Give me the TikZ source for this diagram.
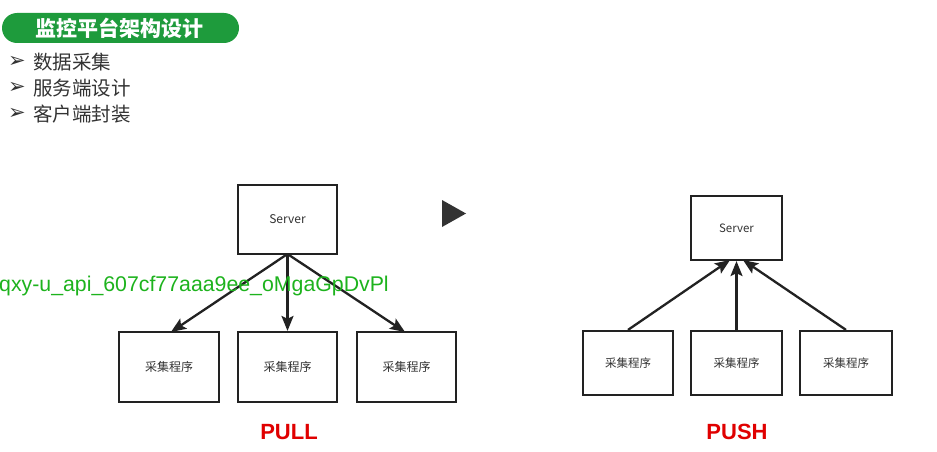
\documentclass[tikz,border=0pt]{standalone}
\usepackage{fontspec}
\setmainfont{Liberation Sans}
\newfontfamily\cjk{Noto Sans CJK SC}
\newfontfamily\dejavu{DejaVu Sans}
\usetikzlibrary{arrows.meta}
\definecolor{titlegreen}{HTML}{1E9B3C}
\definecolor{wmgreen}{HTML}{1DB31D}
\definecolor{labelred}{HTML}{E00000}
\definecolor{boxline}{HTML}{222222}
\definecolor{txtgray}{HTML}{333333}
\tikzset{
  procbox/.style={draw=boxline, line width=2.2pt, fill=white, inner sep=0pt},
  boxtext/.style={font=\fontsize{12}{14}\selectfont\cjk, text=txtgray},
  conn/.style={draw=boxline, line width=2.3pt, -{Stealth[length=15pt,width=12pt,inset=3pt]}},
  bullettext/.style={font=\fontsize{19.5}{22}\selectfont\cjk, text=txtgray, anchor=west, inner sep=0pt},
  bulletmark/.style={font=\fontsize{21}{23}\selectfont\dejavu, text=txtgray, anchor=west, inner sep=0pt},
  modelabel/.style={font=\fontsize{22}{24}\selectfont\bfseries, text=labelred},
}
\begin{document}
\begin{tikzpicture}[x=1pt,y=-1pt]
\useasboundingbox (0,0) rectangle (937,452);
\clip (0,0) rectangle (937,452);
\fill[white] (0,0) rectangle (937,452);

% title pill
\fill[titlegreen, rounded corners=15pt] (2,13) rectangle (239,43);
\node[font=\fontsize{21}{23}\selectfont\cjk\bfseries, text=white] (title) at (119,28) {监控平台架构设计};

% bullets
\node[bulletmark] (b1) at (8,62) {➢};
\node[bullettext] (t1) at (33,62) {数据采集};
\node[bulletmark] (b2) at (8,88) {➢};
\node[bullettext] (t2) at (33,88) {服务端设计};
\node[bulletmark] (b3) at (8,114) {➢};
\node[bullettext] (t3) at (33,114) {客户端封装};

% PULL diagram
\node[procbox, minimum width=99pt, minimum height=69pt, boxtext] (pserver) at (287.5,219.5) {Server};
\node[procbox, minimum width=100pt, minimum height=70pt, boxtext] (pc1) at (169,367) {采集程序};
\node[procbox, minimum width=99pt, minimum height=70pt, boxtext] (pc2) at (287.5,367) {采集程序};
\node[procbox, minimum width=99pt, minimum height=70pt, boxtext] (pc3) at (406.5,367) {采集程序};
\coordinate (pbot) at (287.5,254);
\coordinate (pt1) at (171,332);
\coordinate (pt3) at (405,332);
\draw[conn] (pbot) -- (pt1);
\draw[conn] (pbot) -- (pc2.north);
\draw[conn] (pbot) -- (pt3);
\node[modelabel] (pull) at (289,432) {PULL};

% play triangle
\fill[txtgray] (442,200) -- (466,213.5) -- (442,227) -- cycle;

% watermark
\node[font=\fontsize{21.3}{24}\selectfont, text=wmgreen, anchor=base east, inner sep=0pt] (wm) at (389,291) {qxy-u\_api\_607cf77aaa9ee\_oMgaGpDvPl};

% PUSH diagram
\node[procbox, minimum width=91pt, minimum height=64pt, boxtext, font=\fontsize{11.5}{13}\selectfont\cjk] (sserver) at (736.5,228) {Server};
\node[procbox, minimum width=90pt, minimum height=64pt, boxtext, font=\fontsize{11.5}{13}\selectfont\cjk] (sc1) at (628,363) {采集程序};
\node[procbox, minimum width=91pt, minimum height=64pt, boxtext, font=\fontsize{11.5}{13}\selectfont\cjk] (sc2) at (736.5,363) {采集程序};
\node[procbox, minimum width=92pt, minimum height=64pt, boxtext, font=\fontsize{11.5}{13}\selectfont\cjk] (sc3) at (846,363) {采集程序};
\coordinate (st1) at (730,260);
\coordinate (st3) at (743,260);
\draw[conn] (sc1.north) -- (st1);
\draw[conn] (sc2.north) -- (sserver.south);
\draw[conn] (sc3.north) -- (st3);
\node[modelabel] (push) at (737,432) {PUSH};
\end{tikzpicture}
\end{document}
